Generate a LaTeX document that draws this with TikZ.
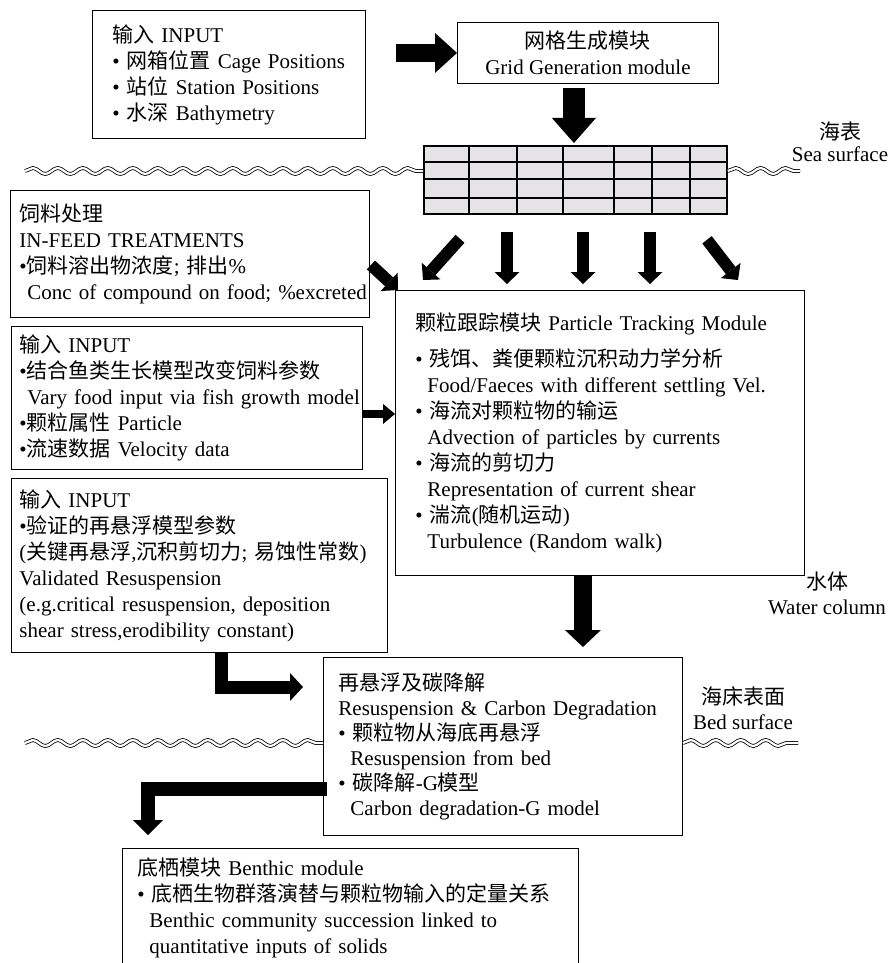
\documentclass[tikz,border=0pt]{standalone}
\usepackage{fontspec}
\setmainfont{Liberation Serif}
\newfontfamily\cjkfont{Noto Sans CJK SC}
\newcommand{\zh}[1]{{\cjkfont #1}}
\newcommand{\bul}{\textbullet}
\newcommand{\ind}{\hspace*{8pt}}
\newcommand{\indb}{\hspace*{12pt}}
\usetikzlibrary{arrows.meta, decorations.pathmorphing, positioning}
\definecolor{gridgray}{RGB}{229,227,229}

\tikzset{
  modbox/.style={draw, line width=0.9pt, align=left, anchor=north west, inner ysep=0pt, font=\fontsize{21}{26}\selectfont},
  lbl/.style={align=center, font=\fontsize{21}{25}\selectfont},
  fatarrow/.style n args={3}{line width=#1, -{Triangle[width=#2, length=#3, line width=0pt]}},
  small/.style={fatarrow={12pt}{25pt}{12pt}},
  wave/.style={decorate, decoration={snake, segment length=25pt, amplitude=3pt}, double, double distance=2.2pt, line width=0.8pt},
}

\begin{document}
\begin{tikzpicture}[x=1pt, y=-1pt]
  \useasboundingbox (0,0) rectangle (889,963);
  \clip (0,0) rectangle (889,963);

  % inputs and grid generation
  \node (input) [modbox, inner xsep=20pt, text width=233pt, minimum height=128pt] at (92,10)
    {\zh{输入} INPUT\\ \bul\ \zh{网箱位置} Cage Positions\\ \bul\ \zh{站位} Station Positions\\ \bul\ \zh{水深} Bathymetry};
  \node (gridgen) [modbox, align=center, minimum width=261pt, minimum height=61pt] at (457,22)
    {\zh{网格生成模块}\\Grid Generation module};

  % cage grid at the sea surface
  \node (grid) [draw, line width=1.8pt, fill=gridgray, minimum width=303pt, minimum height=68pt, anchor=north west, inner sep=0pt] at (423,145) {};
  \foreach \gx in {46,94,140,191,229,267}
    \draw[line width=1.1pt] ([xshift=\gx pt]grid.north west) -- ([xshift=\gx pt]grid.south west);
  \foreach \gy in {17,34,53}
    \draw[line width=1.1pt] ([yshift=-\gy pt]grid.north west) -- ([yshift=-\gy pt]grid.north east);

  % left column
  \node (feed) [modbox, inner xsep=9pt, text width=341pt, minimum height=127pt] at (10,190)
    {\zh{饲料处理}\\IN-FEED TREATMENTS\\ \bul\zh{饲料溶出物浓度}; \zh{排出}\%\\ \mbox{\ind Conc of compound on food; \%excreted}};
  \node (param) [modbox, inner xsep=8pt, text width=335pt, minimum height=143pt] at (11,326)
    {\zh{输入} INPUT\\ \bul\zh{结合鱼类生长模型改变饲料参数}\\ \mbox{\ind Vary food input via fish growth model}\\ \bul\zh{颗粒属性} Particle\\ \bul\zh{流速数据} Velocity data};
  \node (resusin) [modbox, inner xsep=8pt, text width=360pt, minimum height=174pt] at (11,478)
    {\zh{输入} INPUT\\ \bul\zh{验证的再悬浮模型参数}\\ (\zh{关键再悬浮},\zh{沉积剪切力}; \zh{易蚀性常数})\\ Validated Resuspension\\ \mbox{(e.g.critical resuspension, deposition}\\ shear stress,erodibility constant)};

  % particle tracking
  \node (particle) [modbox, inner xsep=20pt, text width=369pt, minimum height=285pt] at (395,290)
    {\zh{颗粒跟踪模块} Particle Tracking Module\\[10pt]
     \bul\ \zh{残饵、粪便颗粒沉积动力学分析}\\ \indb\mbox{Food/Faeces with different settling Vel.}\\
     \bul\ \zh{海流对颗粒物的输运}\\ \indb Advection of particles by currents\\
     \bul\ \zh{海流的剪切力}\\ \indb Representation of current shear\\
     \bul\ \zh{湍流}(\zh{随机运动})\\ \indb Turbulence (Random walk)};

  % resuspension and benthic
  \node (resus) [modbox, inner xsep=15pt, text width=329pt, minimum height=178pt, font=\fontsize{21}{25}\selectfont] at (323,657)
    {\zh{再悬浮及碳降解}\\ \mbox{Resuspension \& Carbon Degradation}\\
     \bul\ \zh{颗粒物从海底再悬浮}\\ \indb Resuspension from bed\\
     \bul\ \zh{碳降解}-G\zh{模型}\\ \indb Carbon degradation-G model};
  \node (benthic) [modbox, inner xsep=15pt, inner ysep=9pt, text width=426pt, text depth=120pt] at (122,848)
    {\zh{底栖模块} Benthic module\\ \bul\ \zh{底栖生物群落演替与颗粒物输入的定量关系}\\
     \indb Benthic community succession linked to\\ \indb quantitative inputs of solids};

  % side labels
  \node (sealbl) [lbl, font=\fontsize{21}{22}\selectfont] at (840,142) {\zh{海表}\\Sea surface};
  \node (waterlbl) [lbl] at (827,593) {\zh{水体}\\Water column};
  \node (bedlbl) [lbl] at (743,708) {\zh{海床表面}\\Bed surface};

  % sea surface and bed surface
  \coordinate (seaL) at (25,171);
  \coordinate (seaR) at (800,171);
  \coordinate (bedL) at (25,743);
  \coordinate (bedR) at (798,743);
  \draw[wave] (seaL) -- (seaL -| grid.west);
  \draw[wave] (grid.east |- seaR) -- (seaR);
  \draw[wave] (bedL) -- (bedL -| resus.west);
  \draw[wave] (resus.east |- bedR) -- (bedR);

  % arrows
  \draw[fatarrow={18pt}{40pt}{22pt}] ([xshift=30pt]input.east |- gridgen.west) -- (gridgen.west);
  \draw[fatarrow={22pt}{44pt}{25pt}] ([xshift=-14pt,yshift=-4pt]gridgen.south) -- ([xshift=-14pt,yshift=2pt]gridgen.south |- grid.north);
  \draw[small] ([shift={(37,24)}]grid.south west) -- ([shift={(28,-10)}]particle.north west);
  \foreach \gx in {84,160,227}
    \draw[small] ([shift={(\gx,17)}]grid.south west) -- ([shift={(\gx+28,-6)}]particle.north west);
  \draw[small] ([shift={(284,25)}]grid.south west) -- ([shift={(343,-10)}]particle.north west);
  \draw[small] ([shift={(1,75)}]feed.north east) -- ([shift={(3,0)}]particle.north west);
  \draw[fatarrow={8pt}{20pt}{12pt}] ([shift={(0,16)}]param.east) -- ([shift={(0,16)}]param.east -| particle.west);
  \draw[fatarrow={18pt}{36pt}{17pt}] ([xshift=-17pt]particle.south) -- ([xshift=-17pt,yshift=10pt]particle.south |- resus.north);
  \draw[fatarrow={13pt}{28pt}{13pt}] ([xshift=210pt]resusin.south west) |- ([shift={(-20,30)}]resus.north west);
  \draw[fatarrow={14pt}{30pt}{15pt}] ([shift={(4,132)}]resus.north west) -| ([shift={(26,-13)}]benthic.north west);
\end{tikzpicture}
\end{document}
